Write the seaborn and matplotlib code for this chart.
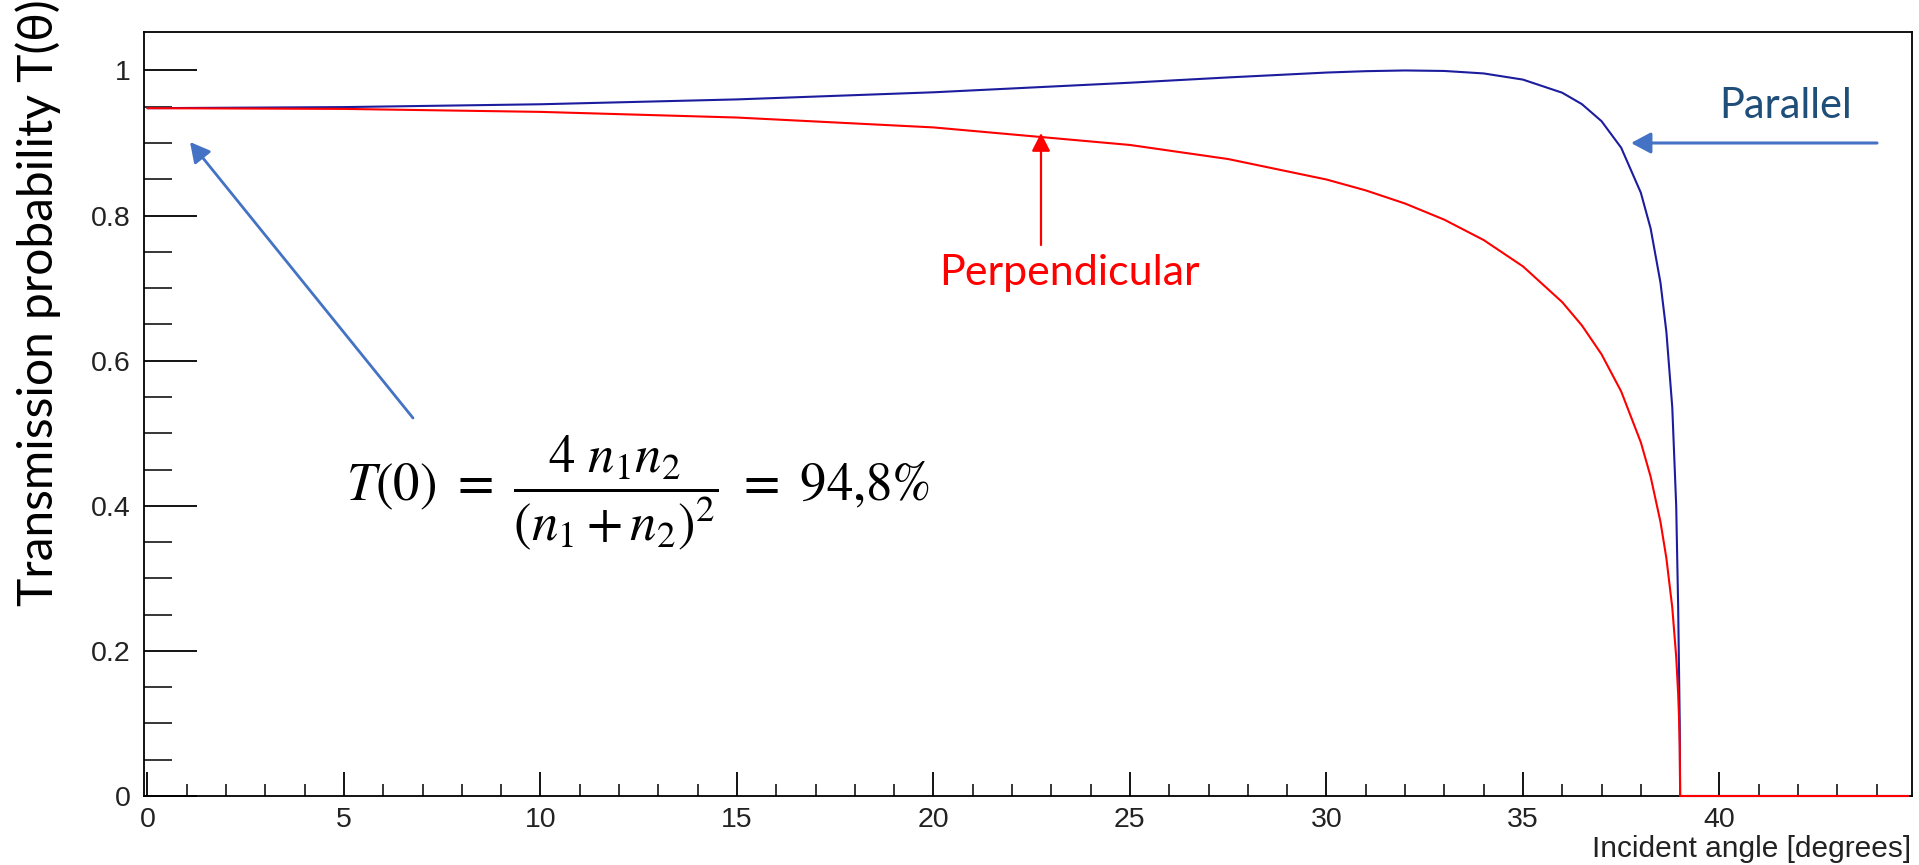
import matplotlib
matplotlib.use("Agg")
import matplotlib.pyplot as plt
import seaborn as sns
import numpy as np
import pandas as pd
from matplotlib.ticker import MultipleLocator, FixedLocator, FuncFormatter

# ---- data ----
angle_deg = [0, 5, 10, 15, 20, 25, 27.5, 30, 31, 32, 33, 34, 35, 36, 36.5, 37,
             37.5, 38, 38.25, 38.5, 38.65, 38.8, 38.9, 38.95, 38.97, 38.99, 39.0, 44.8]
t_parallel = [0.948, 0.9495, 0.9534, 0.9601, 0.9699, 0.9831, 0.9904, 0.9971, 0.9990,
              1.0000, 0.9993, 0.9959, 0.9874, 0.9693, 0.9536, 0.9301, 0.8935, 0.8315,
              0.7821, 0.7075, 0.6398, 0.5358, 0.4000, 0.2600, 0.1800, 0.1000, 0.0, 0.0]
t_perpendicular = [0.948, 0.9470, 0.9429, 0.9351, 0.9215, 0.8973, 0.8779, 0.8497, 0.8347,
                   0.8166, 0.7943, 0.7663, 0.7300, 0.6807, 0.6486, 0.6088, 0.5576, 0.4875,
                   0.4400, 0.3777, 0.3278, 0.2598, 0.1919, 0.1403, 0.1110, 0.0671, 0.0, 0.0]
x_major_ticks = [0, 5, 10, 15, 20, 25, 30, 35, 40]
y_major_ticks = [0, 0.2, 0.4, 0.6, 0.8, 1.0]
x_label = "Incident angle [degrees]"
y_label = "Transmission probability T(θ)"
label_parallel = "Parallel"
label_perpendicular = "Perpendicular"
formula = r"$T(0)\ =\ \dfrac{4\ n_1n_2}{(n_1+n_2)^2}\ =\ 94{,}8\%$"

df = pd.DataFrame({"angle": angle_deg, "par": t_parallel, "perp": t_perpendicular})

sns.set_theme(style="ticks")
plt.rcParams["font.family"] = ["Liberation Sans", "DejaVu Sans"]
plt.rcParams["mathtext.fontset"] = "stix"

W, H = 1919, 865
fig = plt.figure(figsize=(W / 100, H / 100), dpi=100)
fig.patch.set_facecolor("white")
L, R, T, B = 143.5, 1912, 32, 796
ax = fig.add_axes([L / W, 1 - B / H, (R - L) / W, (B - T) / H])
ax.set_facecolor("white")

sns.lineplot(data=df, x="angle", y="perp", ax=ax, color="#ff0000", linewidth=1.5,
             estimator=None, sort=False, zorder=4, clip_on=False)
sns.lineplot(data=df, x="angle", y="par", ax=ax, color="#1c1c9e", linewidth=1.5,
             estimator=None, sort=False, zorder=5, clip_on=False)
ax.lines[1].set_zorder(3.5)

ax.set_xlim(-0.1, 44.9)
ax.set_ylim(0, 1.053)
ax.set_xlabel("")
ax.set_ylabel("")

ax.xaxis.set_major_locator(FixedLocator(x_major_ticks))
ax.xaxis.set_minor_locator(MultipleLocator(1))
ax.yaxis.set_major_locator(FixedLocator(y_major_ticks))
ax.yaxis.set_minor_locator(FixedLocator([v / 100 for v in range(5, 100, 5) if v % 20 != 0]))
ax.yaxis.set_major_formatter(FuncFormatter(lambda v, p: "%g" % round(v, 3)))
ax.xaxis.set_major_formatter(FuncFormatter(lambda v, p: "%g" % v))

for s in ax.spines.values():
    s.set_visible(True)
    s.set_linewidth(1.3)
    s.set_color("black")

ax.tick_params(axis="x", which="major", direction="in", length=17.3, width=1.3,
               labelsize=20.5, pad=8, colors="black", top=False)
ax.tick_params(axis="x", which="minor", direction="in", length=8.8, width=1.3, top=False)
ax.tick_params(axis="y", which="major", direction="in", length=38, width=1.3,
               labelsize=20.5, pad=9, colors="black", right=False)
ax.tick_params(axis="y", which="minor", direction="in", length=20, width=1.3, right=False)
for lab in ax.get_xticklabels() + ax.get_yticklabels():
    lab.set_color("#222222")

# axis titles
fig.text(1911 / W, 1 - 857 / H, x_label, ha="right", va="baseline", fontsize=21.5,
         color="#222222", family=["Liberation Sans", "DejaVu Sans"])
fig.text(38 / W, 1 - 303 / H, y_label, rotation=90, ha="center", va="center",
         fontsize=34.5, color="black", family=["Lato", "DejaVu Sans"])

# annotations
def px2data(px, py):
    x0, x1 = ax.get_xlim()
    y0, y1 = ax.get_ylim()
    return (x0 + (px - L) / (R - L) * (x1 - x0), y0 + (B - py) / (B - T) * (y1 - y0))

blue_arrow = "#4472C4"
ax.annotate("", xy=px2data(1631, 143), xytext=px2data(1877, 143),
            arrowprops=dict(arrowstyle="-|>,head_length=0.6,head_width=0.32",
                            mutation_scale=20, color=blue_arrow, lw=2.2,
                            shrinkA=0, shrinkB=0), annotation_clip=False)
ax.annotate("", xy=px2data(190, 142), xytext=px2data(413, 418),
            arrowprops=dict(arrowstyle="-|>,head_length=0.6,head_width=0.32",
                            mutation_scale=20, color=blue_arrow, lw=2.0,
                            shrinkA=0, shrinkB=0), annotation_clip=False)
ax.annotate("", xy=px2data(1041, 133), xytext=px2data(1041, 245),
            arrowprops=dict(arrowstyle="-|>,head_length=0.55,head_width=0.28",
                            mutation_scale=20, color="#ff0000", lw=1.6,
                            shrinkA=0, shrinkB=0), annotation_clip=False)

fig.text(1786 / W, 1 - 118 / H, label_parallel, ha="center", va="baseline",
         fontsize=30, color="#1F4E79", family=["Lato", "DejaVu Sans"])
fig.text(1069 / W, 1 - 285 / H, label_perpendicular, ha="center", va="baseline",
         fontsize=31, color="#ff0000", family=["Lato", "DejaVu Sans"])
fig.text(638 / W, 1 - 493 / H, formula, ha="center", va="center", fontsize=38,
         color="black")

fig.savefig("out.png", dpi=100, facecolor="white")
